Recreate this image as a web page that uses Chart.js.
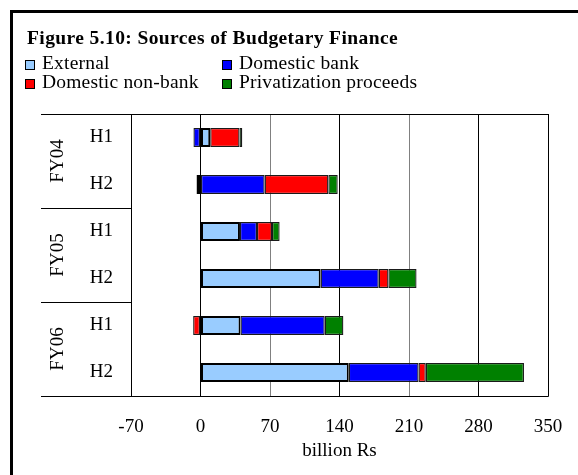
<!DOCTYPE html>
<html>
<head>
<meta charset="utf-8">
<script src="https://cdn.jsdelivr.net/npm/chart.js@4/dist/chart.umd.min.js"></script>
<style>
  html, body { margin: 0; padding: 0; background: #fff; overflow: hidden; }
  #wrap { position: relative; width: 578px; height: 475px; overflow: hidden; font-family: "Liberation Serif", "Times New Roman", serif; color: #000; }
  #frame { position: absolute; left: 10px; top: 10px; width: 700px; height: 600px; border: 3px solid #000; box-sizing: border-box; }
  #title { position: absolute; left: 27px; top: 28px; font-size: 19.5px; line-height: 19px; letter-spacing: 0.4px; font-weight: bold; white-space: nowrap; }
  #legend { position: absolute; left: 25px; top: 53px; display: grid; grid-template-columns: 197px 240px; font-size: 19.5px; line-height: 19px; letter-spacing: 0.2px; }
  .item { display: flex; align-items: center; white-space: nowrap; }
  .box { width: 8px; height: 8px; border: 1px solid #000; margin-right: 7px; margin-top: 4px; }
  canvas { position: absolute; left: 0; top: 0; }
</style>
</head>
<body>
<div id="wrap">
  <div id="frame"></div>
  <canvas id="chart" width="578" height="475"></canvas>
  <div id="title">Figure 5.10: Sources of Budgetary Finance</div>
  <div id="legend"></div>
</div>
<script>
// half-years, grouped by fiscal year
const categories = ['H1', 'H2', 'H1', 'H2', 'H1', 'H2'];
const groups = ['FY04', 'FY05', 'FY06'];

// billion Rs
const external = [9.8, -4.0, 39.7, 121.0, 40.3, 149.3];
const domesticBank = [-7.1, 64.6, 17.2, 58.5, 84.8, 70.3];
const domesticNonBank = [29.5, 64.2, 15.1, 9.8, -7.4, 7.3];
const privatization = [2.8, 9.4, 7.7, 28.3, 18.8, 98.9];

const seriesNames = ['External', 'Domestic bank', 'Domestic non-bank', 'Privatization proceeds'];
const seriesColors = ['#99CCFF', '#0000FF', '#FF0000', '#008000'];
const xTicks = [-70, 0, 70, 140, 210, 280, 350];

const FONT = "'Liberation Serif', 'Times New Roman', serif";

// legend in two columns: External / Domestic bank, then non-bank / privatization
const legendDiv = document.getElementById('legend');
seriesNames.forEach((name, i) => {
    const item = document.createElement('div');
    item.className = 'item';
    item.innerHTML = `<span class="box" style="background:${seriesColors[i]}"></span>${name}`;
    legendDiv.appendChild(item);
});

// draws the fiscal-year labels, separators and plot border
const groupPlugin = {
    id: 'groupPlugin',
    afterDraw(chart) {
        const ctx = chart.ctx;
        const area = chart.chartArea;
        const y = chart.scales.y;
        ctx.save();
        ctx.strokeStyle = '#000';
        ctx.lineWidth = 1;

        // plot border top/right/bottom
        ctx.beginPath();
        ctx.moveTo(area.left, area.top + 0.5);
        ctx.lineTo(area.right + 0.5, area.top + 0.5);
        ctx.lineTo(area.right + 0.5, area.bottom + 0.5);
        ctx.lineTo(area.left, area.bottom + 0.5);
        ctx.stroke();

        const sepLeft = 41;
        ctx.font = '19px ' + FONT;
        ctx.fillStyle = '#000';
        ctx.textAlign = 'center';
        ctx.textBaseline = 'middle';
        for (let g = 0; g <= groups.length; g++) {
            const py = Math.round(y.getPixelForValue(g * 2 - 0.5)) + 0.5;
            ctx.beginPath();
            ctx.moveTo(sepLeft, py);
            ctx.lineTo(area.left, py);
            ctx.stroke();
        }
        groups.forEach((name, g) => {
            const cy = (y.getPixelForValue(g * 2) + y.getPixelForValue(g * 2 + 1)) / 2;
            ctx.save();
            ctx.translate(58, cy);
            ctx.rotate(-Math.PI / 2);
            ctx.fillText(name, 0, 0);
            ctx.restore();
        });
        ctx.restore();
    }
};

const seriesData = [external, domesticBank, domesticNonBank, privatization];

new Chart(document.getElementById('chart'), {
    type: 'bar',
    data: {
        labels: categories,
        datasets: seriesData.map((d, i) => ({
            label: seriesNames[i],
            data: d,
            backgroundColor: seriesColors[i],
            borderColor: i === 0 ? '#000' : '#1a1a1a',
            borderWidth: i === 0 ? 2 : 1.3,
            borderSkipped: false,
            categoryPercentage: 1,
            barPercentage: 0.405
        }))
    },
    options: {
        indexAxis: 'y',
        responsive: false,
        animation: false,
        devicePixelRatio: 1,
        layout: { padding: { left: 41, right: 30, top: 114, bottom: 0 } },
        plugins: {
            legend: { display: false },
            tooltip: { enabled: false }
        },
        scales: {
            x: {
                type: 'linear',
                stacked: true,
                min: -70,
                max: 350,
                afterBuildTicks: (scale) => { scale.ticks = xTicks.map(v => ({ value: v })); },
                afterFit: (scale) => {
                    scale.height = 79;
                    scale.paddingLeft = 0;
                    scale.paddingRight = 0;
                },
                ticks: {
                    padding: 20,
                    color: '#000',
                    font: { family: FONT, size: 19 }
                },
                grid: {
                    drawTicks: false,
                    color: (c) => (c.tick && (c.tick.value === 70 || c.tick.value === 210)) ? '#808080' : '#000'
                },
                border: { display: false },
                title: {
                    display: true,
                    text: 'billion Rs',
                    color: '#000',
                    font: { family: FONT, size: 19 },
                    padding: { top: 0, bottom: 13 }
                }
            },
            y: {
                stacked: true,
                afterFit: (scale) => { scale.width = 90; },
                ticks: {
                    padding: 18,
                    color: '#000',
                    font: { family: FONT, size: 19 }
                },
                grid: { display: false, drawTicks: false },
                border: { display: true, color: '#000', width: 1 }
            }
        }
    },
    plugins: [groupPlugin]
});
</script>
</body>
</html>
